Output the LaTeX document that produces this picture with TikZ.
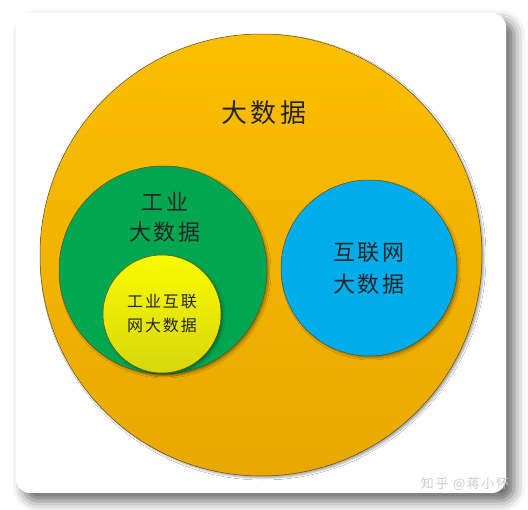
\documentclass[tikz,border=0pt]{standalone}
\usepackage{fontspec}
\newfontfamily\cjk[LetterSpace=12]{Noto Sans CJK SC}
\usetikzlibrary{shadows.blur,positioning}

\definecolor{bigtop}{RGB}{252,190,0}
\definecolor{bigbot}{RGB}{232,168,0}
\definecolor{greenset}{RGB}{0,166,80}
\definecolor{blueset}{RGB}{0,172,234}
\definecolor{yellowset}{RGB}{250,250,0}
\definecolor{rim}{RGB}{90,80,30}

\tikzset{
  setcircle/.style={circle,draw=rim,line width=0.5pt,inner sep=0pt,align=center,font=\cjk,text=black!85,
    blur shadow={shadow xshift=2pt,shadow yshift=-2pt,shadow blur radius=2pt,shadow opacity=35}},
  setlabel/.style={align=center,font=\cjk,text=black!85,inner sep=0pt}
}

\begin{document}
\begin{tikzpicture}[x=1pt,y=-1pt]
\useasboundingbox (0,0) rectangle (528,510);
% card
\draw[draw=none,fill=white,rounded corners=14pt,
  blur shadow={shadow xshift=8pt,shadow yshift=-8pt,shadow blur radius=11pt,shadow opacity=60}]
  (16,13) rectangle (506,493);
% circles
\node[setcircle,minimum size=442pt,top color=bigtop,bottom color=bigbot] (big) at (261,255) {};
\node[setcircle,minimum size=208pt,fill=greenset] (industry) at (163,270) {};
\node[setcircle,minimum size=118pt,top color=yellowset,bottom color=yellowset!85!black!95,
  font=\cjk\fontsize{16}{24}\selectfont] (iiot) at (162,314) {工业互联\\网大数据};
\node[setcircle,minimum size=176pt,fill=blueset,
  font=\cjk\fontsize{22}{32}\selectfont] (internet) at (369,268) {互联网\\大数据};
% labels
\node[setlabel,font=\cjk\fontsize{26}{32}\selectfont] (biglabel) at (264,113) {大数据};
\node[setlabel,font=\cjk\fontsize{22}{30}\selectfont] (industrylabel) at (165,217) {工业\\大数据};
\node[setlabel,font=\cjk\fontsize{13}{16}\selectfont,text=gray!40] (mark) at (465,484) {知乎 @蒋小怀};
\end{tikzpicture}
\end{document}
